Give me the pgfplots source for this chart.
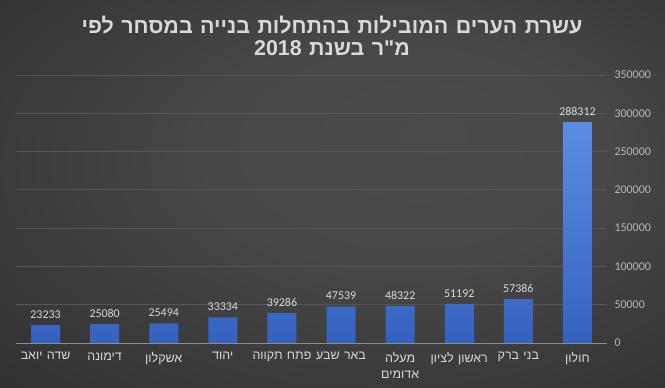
\documentclass[border=0pt]{standalone}
\usepackage{fontspec}
\setmainfont{Carlito}
\newfontfamily\heb[Script=Hebrew]{Liberation Sans}
\newfontfamily\hebt[Script=Hebrew,WordSpace=1.25]{Liberation Sans}
\TeXXeTstate=1
\usepackage{pgfplots}
\pgfplotsset{compat=1.18}
\definecolor{bginner}{HTML}{4A4A4A}
\definecolor{bgouter}{HTML}{262626}
\definecolor{bartop}{HTML}{5B8DE3}
\definecolor{barbot}{HTML}{3562BE}
\definecolor{txt}{HTML}{D9D9D9}
\definecolor{gridc}{HTML}{565656}
\definecolor{axc}{HTML}{8C8C8C}
\pgfdeclareradialshading{bgshade}{\pgfpoint{8bp}{8bp}}{color(0bp)=(bginner); color(15bp)=(bginner!92!bgouter); color(50bp)=(bgouter)}
\begin{document}
\begin{tikzpicture}[x=1bp,y=1bp]
\useasboundingbox (0bp,0bp) rectangle (665bp,388bp);
\shade[shading=bgshade] (0bp,0bp) rectangle (665bp,388bp);
\begin{axis}[
  at={(16bp,45bp)}, anchor=south west,
  scale only axis, width=591bp, height=268bp,
  ymin=0, ymax=350000, xmin=-0.5, xmax=9.5,
  ytick={0,50000,...,350000},
  xtick={0,...,9},
  xticklabels={{\beginR שדה יואב\endR},{\beginR דימונה\endR},{\beginR אשקלון\endR},{\beginR יהוד\endR},{\beginR פתח תקווה\endR},{\beginR באר שבע\endR},{\beginR מעלה\endR\\\beginR אדומים\endR},{\beginR ראשון לציון\endR},{\beginR בני ברק\endR},{\beginR חולון\endR}},
  xticklabel style={font=\heb\fontsize{12.5}{16}\selectfont, text=txt, align=center, yshift=-6bp},
  yticklabel pos=right,
  yticklabel style={font=\fontsize{12}{14}\selectfont, text=txt!85!black, anchor=west, xshift=4bp},
  scaled y ticks=false,
  /pgf/number format/.cd, fixed, precision=0, 1000 sep={}, assume math mode=true,
  /pgfplots/.cd,
  major tick length=0,
  axis x line*=bottom, axis y line*=right,
  y axis line style={draw=none},
  x axis line style={draw=axc, line width=0.8bp, -},
  ymajorgrids, grid style={draw=gridc, line width=0.8bp},
  ybar, bar width=29bp,
  nodes near coords,
  every node near coord/.append style={font=\fontsize{12}{14}\selectfont, text=txt, yshift=3bp},
]
\addplot[draw=none, top color=bartop, bottom color=barbot] coordinates {
(0,23233) (1,25080) (2,25494) (3,33334) (4,39286) (5,47539) (6,48322) (7,51192) (8,57386) (9,288312)};
\end{axis}
\node[font=\hebt\bfseries\fontsize{21.5}{23}\selectfont, text=txt, align=center, anchor=base] at (332bp,332bp)
 {\beginR עשרת הערים המובילות בהתחלות בנייה במסחר לפי\endR\\\beginR מ"ר בשנת \beginL 2018\endL\endR};
\end{tikzpicture}
\end{document}
